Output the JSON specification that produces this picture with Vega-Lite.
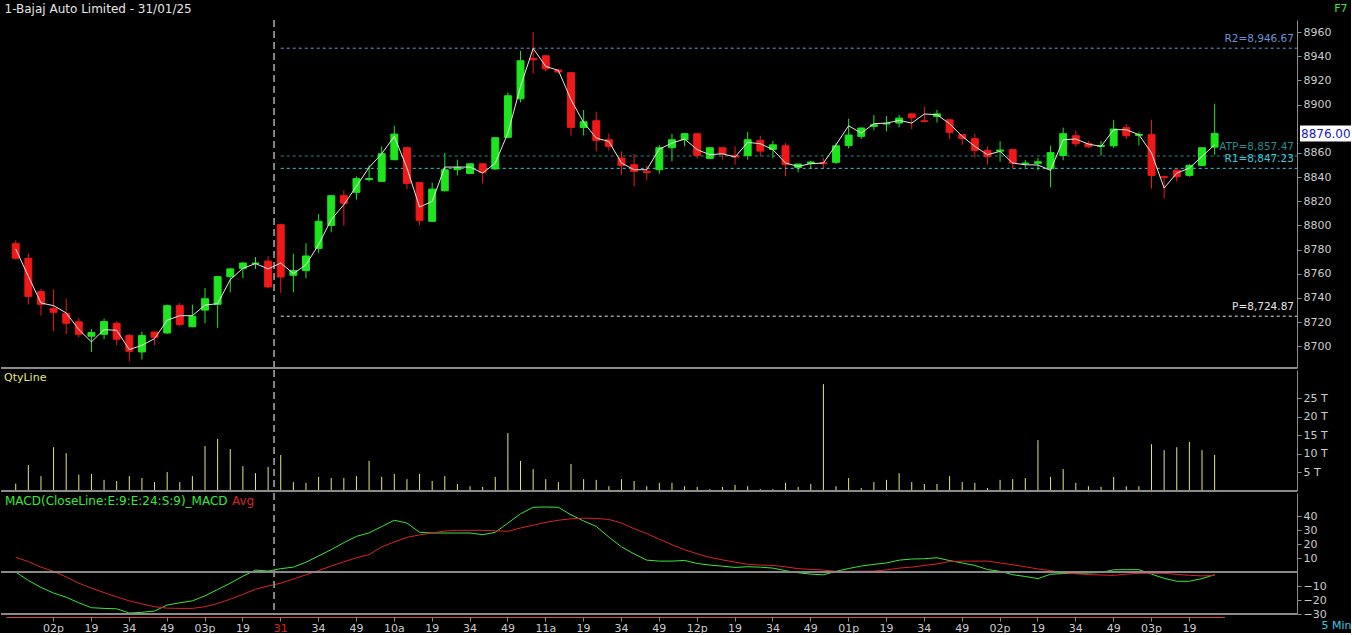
{
"$schema":"https://vega.github.io/schema/vega-lite/v6.json",
"background":"#000000",
"padding":{"top":2,"left":0,"right":0,"bottom":0},
"spacing":0,
"config":{"view":{"stroke":null},"font":"DejaVu Sans",
"axis":{"grid":false,"labelFont":"DejaVu Sans","labelFontSize":11,"labelColor":"#cccccc","domainColor":"#8c8c8c","tickColor":"#8c8c8c","titleFont":"DejaVu Sans","titleFontWeight":"normal","titleFontSize":11,"labelOverlap":false},
"legend":{"labelFont":"DejaVu Sans","labelFontSize":11,"padding":0,"title":null,"labelLimit":500}},
"resolve":{"scale":{"x":"shared","y":"independent","color":"independent"},"legend":{"color":"independent"}},
"datasets":{
"lv":[{"n":"R2","v":8946.67,"lab":"R2=8,946.67"},{"n":"ATP","v":8857.47,"lab":"ATP=8,857.47"},{"n":"R1","v":8847.23,"lab":"R1=8,847.23"},{"n":"P","v":8724.87,"lab":"P=8,724.87"}],
"last":[{"v":8876,"lbl":"8876.00"}],
"k":[
{"t":"30 13:49","o":8784.9,"h":8787.6,"l":8771.7,"c":8772.8,"d":"down","ma":8780.5,"q":2000,"m":0,"s":10.5},
{"t":"30 13:54","o":8772.8,"h":8776.6,"l":8734.5,"c":8741.3,"d":"down","ma":8757.9,"q":7000,"m":-6,"s":7.5},
{"t":"30 13:59","o":8745.2,"h":8747.4,"l":8725.3,"c":8734.7,"d":"down","ma":8735.8,"q":4000,"m":-11,"s":3.5},
{"t":"30 14:04","o":8731.2,"h":8746.9,"l":8712.4,"c":8728.1,"d":"down","ma":8733.6,"q":11800,"m":-15,"s":0.5},
{"t":"30 14:09","o":8727.0,"h":8739.4,"l":8709.9,"c":8719.0,"d":"down","ma":8727.6,"q":10200,"m":-18,"s":-3.5},
{"t":"30 14:14","o":8720.2,"h":8723.4,"l":8707.4,"c":8709.9,"d":"down","ma":8713.8,"q":4400,"m":-22,"s":-8},
{"t":"30 14:19","o":8708.3,"h":8714.3,"l":8695.3,"c":8711.3,"d":"up","ma":8703.6,"q":4600,"m":-25.5,"s":-11.5},
{"t":"30 14:24","o":8709.9,"h":8722.9,"l":8705.8,"c":8720.4,"d":"up","ma":8713.8,"q":3000,"m":-26,"s":-14.7},
{"t":"30 14:29","o":8719.0,"h":8720.4,"l":8700.8,"c":8705.8,"d":"down","ma":8713.2,"q":2700,"m":-26.3,"s":-17.8},
{"t":"30 14:34","o":8708.8,"h":8710.2,"l":8687.6,"c":8695.8,"d":"down","ma":8697.2,"q":4000,"m":-29.3,"s":-20.6},
{"t":"30 14:39","o":8695.3,"h":8712.1,"l":8689.0,"c":8708.8,"d":"up","ma":8700.8,"q":3500,"m":-28.8,"s":-22.8},
{"t":"30 14:44","o":8711.8,"h":8711.8,"l":8700.8,"c":8707.4,"d":"down","ma":8706.3,"q":2400,"m":-27.9,"s":-24.8},
{"t":"30 14:49","o":8711.0,"h":8734.5,"l":8710.2,"c":8733.6,"d":"up","ma":8721.5,"q":5100,"m":-23.6,"s":-25.8},
{"t":"30 14:54","o":8733.6,"h":8735.8,"l":8716.5,"c":8717.9,"d":"down","ma":8725.3,"q":2400,"m":-22,"s":-26},
{"t":"30 14:59","o":8716.2,"h":8734.5,"l":8715.7,"c":8724.8,"d":"up","ma":8725.3,"q":4000,"m":-20.6,"s":-26},
{"t":"30 15:04","o":8729.9,"h":8748.2,"l":8719.0,"c":8739.3,"d":"up","ma":8734.1,"q":12100,"m":-17,"s":-24.8},
{"t":"30 15:09","o":8734.7,"h":8757.6,"l":8715.2,"c":8757.6,"d":"up","ma":8735.2,"q":14000,"m":-12.5,"s":-22.5},
{"t":"30 15:14","o":8757.6,"h":8764.8,"l":8744.6,"c":8764.0,"d":"up","ma":8755.1,"q":11300,"m":-8,"s":-19.4},
{"t":"30 15:19","o":8764.5,"h":8769.5,"l":8756.5,"c":8768.9,"d":"up","ma":8764.5,"q":6700,"m":-3,"s":-16},
{"t":"30 15:24","o":8768.4,"h":8773.9,"l":8764.0,"c":8768.9,"d":"up","ma":8768.4,"q":4800,"m":1.4,"s":-12.3},
{"t":"30 15:29","o":8770.5,"h":8774.4,"l":8748.0,"c":8749.1,"d":"down","ma":8764.0,"q":6500,"m":0.7,"s":-10},
{"t":"31 09:19","o":8800.6,"h":8800.8,"l":8744.1,"c":8757.3,"d":"down","ma":8768.9,"q":9700,"m":2.4,"s":-8},
{"t":"31 09:24","o":8758.7,"h":8776.6,"l":8744.6,"c":8762.6,"d":"up","ma":8760.1,"q":2400,"m":3.5,"s":-5},
{"t":"31 09:29","o":8762.6,"h":8785.2,"l":8756.2,"c":8774.7,"d":"up","ma":8767.5,"q":2200,"m":7,"s":-2},
{"t":"31 09:34","o":8781.0,"h":8809.4,"l":8777.2,"c":8803.4,"d":"up","ma":8784.1,"q":3800,"m":11.5,"s":1},
{"t":"31 09:39","o":8800.0,"h":8825.0,"l":8794.3,"c":8824.6,"d":"up","ma":8804.8,"q":3500,"m":16,"s":4.3},
{"t":"31 09:44","o":8824.6,"h":8829.0,"l":8799.8,"c":8818.3,"d":"down","ma":8817.2,"q":3500,"m":21,"s":7.3},
{"t":"31 09:49","o":8827.4,"h":8840.6,"l":8821.3,"c":8838.7,"d":"up","ma":8832.4,"q":4000,"m":25.5,"s":10.2},
{"t":"31 09:54","o":8838.0,"h":8849.7,"l":8836.3,"c":8838.8,"d":"up","ma":8848.0,"q":8100,"m":28,"s":12.5},
{"t":"31 09:59","o":8836.5,"h":8865.4,"l":8836.5,"c":8859.3,"d":"up","ma":8859.3,"q":3800,"m":32.5,"s":18},
{"t":"31 10:04","o":8854.4,"h":8882.5,"l":8853.9,"c":8875.6,"d":"up","ma":8873.7,"q":4600,"m":37,"s":21.5},
{"t":"31 10:09","o":8864.3,"h":8865.0,"l":8830.1,"c":8834.8,"d":"down","ma":8847.5,"q":3200,"m":35,"s":24.8},
{"t":"31 10:14","o":8835.4,"h":8836.0,"l":8800.0,"c":8804.2,"d":"down","ma":8815.2,"q":4600,"m":28.4,"s":26.5},
{"t":"31 10:19","o":8803.4,"h":8835.4,"l":8802.9,"c":8830.1,"d":"up","ma":8819.9,"q":2700,"m":27.9,"s":27.9},
{"t":"31 10:24","o":8828.7,"h":8859.9,"l":8828.2,"c":8846.1,"d":"up","ma":8848.3,"q":4000,"m":27.9,"s":29.3},
{"t":"31 10:29","o":8846.1,"h":8854.4,"l":8841.4,"c":8848.0,"d":"up","ma":8848.3,"q":1900,"m":27.9,"s":29.8},
{"t":"31 10:34","o":8843.0,"h":8851.2,"l":8842.5,"c":8851.0,"d":"up","ma":8848.3,"q":1300,"m":27.9,"s":29.8},
{"t":"31 10:39","o":8851.0,"h":8851.3,"l":8834.8,"c":8843.9,"d":"down","ma":8843.3,"q":1100,"m":26.7,"s":29.8},
{"t":"31 10:44","o":8846.7,"h":8872.8,"l":8846.1,"c":8872.6,"d":"up","ma":8851.6,"q":3800,"m":28.4,"s":29.5},
{"t":"31 10:49","o":8872.9,"h":8910.1,"l":8872.0,"c":8907.3,"d":"up","ma":8876.4,"q":15600,"m":35,"s":29.1},
{"t":"31 10:54","o":8904.8,"h":8944.5,"l":8901.8,"c":8936.3,"d":"up","ma":8915.0,"q":8100,"m":41.6,"s":31.5},
{"t":"31 10:59","o":8938.2,"h":8960.0,"l":8925.8,"c":8937.1,"d":"down","ma":8946.5,"q":5900,"m":46.3,"s":33.5},
{"t":"31 11:04","o":8940.4,"h":8940.5,"l":8927.4,"c":8929.6,"d":"down","ma":8931.6,"q":3200,"m":46.5,"s":35.5},
{"t":"31 11:09","o":8928.6,"h":8929.6,"l":8926.0,"c":8927.0,"d":"down","ma":8928.3,"q":2400,"m":46.3,"s":37},
{"t":"31 11:14","o":8926.4,"h":8926.6,"l":8874.2,"c":8881.1,"d":"down","ma":8904.0,"q":7300,"m":40.9,"s":38.1},
{"t":"31 11:19","o":8881.1,"h":8895.5,"l":8874.5,"c":8885.8,"d":"up","ma":8885.2,"q":3200,"m":36.5,"s":38.5},
{"t":"31 11:24","o":8886.6,"h":8894.1,"l":8861.3,"c":8870.4,"d":"down","ma":8872.3,"q":3000,"m":32.6,"s":38.3},
{"t":"31 11:29","o":8870.9,"h":8875.9,"l":8862.1,"c":8865.4,"d":"down","ma":8869.5,"q":1300,"m":25,"s":37.6},
{"t":"31 11:34","o":8855.8,"h":8861.3,"l":8842.0,"c":8849.7,"d":"down","ma":8851.6,"q":3200,"m":18,"s":35},
{"t":"31 11:39","o":8850.2,"h":8859.1,"l":8832.3,"c":8844.7,"d":"down","ma":8846.1,"q":2700,"m":13,"s":31},
{"t":"31 11:44","o":8844.9,"h":8849.7,"l":8837.8,"c":8843.8,"d":"down","ma":8846.1,"q":1300,"m":8.5,"s":27.5},
{"t":"31 11:49","o":8846.1,"h":8866.5,"l":8842.8,"c":8864.3,"d":"up","ma":8863.2,"q":2200,"m":7.8,"s":23.5},
{"t":"31 11:54","o":8864.3,"h":8875.9,"l":8853.0,"c":8870.9,"d":"up","ma":8868.1,"q":2200,"m":7.8,"s":19.5},
{"t":"31 11:59","o":8870.9,"h":8876.2,"l":8865.4,"c":8875.9,"d":"up","ma":8871.5,"q":1300,"m":8.3,"s":16},
{"t":"31 12:04","o":8875.9,"h":8876.2,"l":8855.2,"c":8857.9,"d":"down","ma":8862.7,"q":1100,"m":6.1,"s":13},
{"t":"31 12:09","o":8855.5,"h":8864.5,"l":8854.7,"c":8864.3,"d":"up","ma":8858.5,"q":500,"m":5.0,"s":10.5},
{"t":"31 12:14","o":8864.3,"h":8864.5,"l":8854.4,"c":8859.1,"d":"down","ma":8859.3,"q":1100,"m":4.2,"s":8.7},
{"t":"31 12:19","o":8857.9,"h":8865.4,"l":8850.2,"c":8856.6,"d":"down","ma":8856.6,"q":1600,"m":3.3,"s":7.1},
{"t":"31 12:24","o":8857.9,"h":8877.5,"l":8854.4,"c":8870.9,"d":"up","ma":8868.7,"q":1300,"m":3.8,"s":5.5},
{"t":"31 12:29","o":8870.4,"h":8874.2,"l":8857.1,"c":8861.5,"d":"down","ma":8867.6,"q":500,"m":3.5,"s":5},
{"t":"31 12:34","o":8862.9,"h":8869.8,"l":8855.5,"c":8866.7,"d":"up","ma":8862.7,"q":500,"m":2.8,"s":4.7},
{"t":"31 12:39","o":8865.9,"h":8868.1,"l":8840.6,"c":8850.5,"d":"down","ma":8851.6,"q":2200,"m":1,"s":3.7},
{"t":"31 12:44","o":8848.0,"h":8851.0,"l":8843.9,"c":8850.8,"d":"up","ma":8848.9,"q":1100,"m":-0.5,"s":2.4},
{"t":"31 12:49","o":8851.4,"h":8853.3,"l":8846.7,"c":8852.5,"d":"up","ma":8851.1,"q":1900,"m":-1.5,"s":1.9},
{"t":"31 12:54","o":8851.9,"h":8855.8,"l":8846.7,"c":8851.1,"d":"down","ma":8851.6,"q":28800,"m":-2,"s":1.4},
{"t":"31 12:59","o":8852.2,"h":8868.1,"l":8850.8,"c":8865.9,"d":"up","ma":8866.7,"q":1300,"m":0.5,"s":0.5},
{"t":"31 13:04","o":8866.2,"h":8888.3,"l":8863.7,"c":8874.8,"d":"up","ma":8882.5,"q":3500,"m":2.5,"s":0.5},
{"t":"31 13:09","o":8873.7,"h":8880.8,"l":8871.5,"c":8880.6,"d":"up","ma":8876.4,"q":800,"m":4.3,"s":0.6},
{"t":"31 13:14","o":8882.0,"h":8891.4,"l":8878.7,"c":8883.3,"d":"up","ma":8884.2,"q":2400,"m":5.5,"s":0.7},
{"t":"31 13:19","o":8883.9,"h":8890.5,"l":8877.9,"c":8884.4,"d":"up","ma":8884.7,"q":3000,"m":6.5,"s":1.5},
{"t":"31 13:24","o":8884.7,"h":8891.4,"l":8881.1,"c":8888.8,"d":"up","ma":8886.9,"q":4800,"m":8.5,"s":2.8},
{"t":"31 13:29","o":8892.3,"h":8892.5,"l":8879.8,"c":8889.1,"d":"down","ma":8884.7,"q":2400,"m":9.3,"s":3.5},
{"t":"31 13:34","o":8886.6,"h":8898.0,"l":8885.2,"c":8886.1,"d":"down","ma":8892.2,"q":1900,"m":9.5,"s":4.7},
{"t":"31 13:39","o":8890.2,"h":8895.6,"l":8885.2,"c":8892.3,"d":"up","ma":8891.6,"q":1900,"m":10.2,"s":5.8},
{"t":"31 13:44","o":8887.4,"h":8888.3,"l":8871.5,"c":8877.0,"d":"down","ma":8884.2,"q":4000,"m":8.2,"s":7.5},
{"t":"31 13:49","o":8875.1,"h":8875.3,"l":8866.7,"c":8872.0,"d":"down","ma":8873.7,"q":2400,"m":6.5,"s":7.8},
{"t":"31 13:54","o":8871.8,"h":8875.9,"l":8856.1,"c":8862.1,"d":"down","ma":8865.4,"q":2200,"m":4.7,"s":7.8},
{"t":"31 13:59","o":8862.1,"h":8865.4,"l":8850.5,"c":8857.1,"d":"down","ma":8858.5,"q":800,"m":1.8,"s":7.8},
{"t":"31 14:04","o":8861.5,"h":8869.8,"l":8852.7,"c":8862.4,"d":"up","ma":8861.3,"q":3000,"m":0.5,"s":6.5},
{"t":"31 14:09","o":8862.7,"h":8862.9,"l":8847.3,"c":8851.6,"d":"down","ma":8851.6,"q":3200,"m":-1.9,"s":5.2},
{"t":"31 14:14","o":8851.1,"h":8854.1,"l":8848.0,"c":8851.6,"d":"up","ma":8850.2,"q":3500,"m":-3.2,"s":3.8},
{"t":"31 14:19","o":8851.4,"h":8855.8,"l":8845.6,"c":8852.7,"d":"up","ma":8850.0,"q":13700,"m":-4.7,"s":2.2},
{"t":"31 14:24","o":8847.0,"h":8865.9,"l":8831.5,"c":8860.2,"d":"up","ma":8845.6,"q":3800,"m":-1.6,"s":1},
{"t":"31 14:29","o":8857.9,"h":8880.9,"l":8853.9,"c":8875.9,"d":"up","ma":8870.9,"q":5900,"m":-1.1,"s":-0.5},
{"t":"31 14:34","o":8874.2,"h":8878.4,"l":8865.1,"c":8867.6,"d":"down","ma":8871.5,"q":2200,"m":-0.9,"s":-1.2},
{"t":"31 14:39","o":8867.6,"h":8869.8,"l":8864.0,"c":8865.1,"d":"down","ma":8867.3,"q":1300,"m":-0.7,"s":-1.8},
{"t":"31 14:44","o":8865.4,"h":8869.8,"l":8857.7,"c":8866.2,"d":"up","ma":8865.4,"q":1100,"m":-0.3,"s":-2.1},
{"t":"31 14:49","o":8865.9,"h":8887.2,"l":8864.0,"c":8879.8,"d":"up","ma":8879.2,"q":3800,"m":1.6,"s":-2.4},
{"t":"31 14:54","o":8880.9,"h":8883.9,"l":8871.5,"c":8874.2,"d":"down","ma":8879.2,"q":1300,"m":1.7,"s":-1.5},
{"t":"31 14:59","o":8874.5,"h":8877.2,"l":8866.2,"c":8875.3,"d":"up","ma":8875.1,"q":1300,"m":1.7,"s":-0.9},
{"t":"31 15:04","o":8875.1,"h":8887.5,"l":8830.4,"c":8841.4,"d":"down","ma":8859.9,"q":12600,"m":-1.5,"s":-0.9},
{"t":"31 15:09","o":8840.3,"h":8841.1,"l":8822.6,"c":8839.8,"d":"down","ma":8830.9,"q":11000,"m":-4.5,"s":-0.9},
{"t":"31 15:14","o":8845.8,"h":8846.0,"l":8836.3,"c":8840.3,"d":"down","ma":8843.3,"q":11800,"m":-6.6,"s":-1.7},
{"t":"31 15:19","o":8841.4,"h":8850.8,"l":8840.3,"c":8849.7,"d":"up","ma":8847.5,"q":13200,"m":-6.6,"s":-2.3},
{"t":"31 15:24","o":8849.7,"h":8864.5,"l":8848.9,"c":8864.3,"d":"up","ma":8857.1,"q":11000,"m":-4.7,"s":-2.8},
{"t":"31 15:29","o":8864.8,"h":8900.7,"l":8858.5,"c":8876.0,"d":"up","ma":8866.7,"q":9700,"m":-1.9,"s":-2.4}
]},
"vconcat":[
{"width":1296,"height":348,"data":{"name":"k"},
"layer":[
{"mark":{"type":"rule","strokeWidth":1},
 "encoding":{"x":{"field":"t","type":"ordinal","scale":{"paddingInner":0.45,"paddingOuter":0.5,"range":[4.94,1223.4]},
   "axis":{"orient":"top","labels":false,"ticks":false,"domain":false,"title":"1-Bajaj Auto Limited - 31/01/25","titleX":3,"titleY":-12,"titleAlign":"left","titleBaseline":"middle","titleColor":"#e6e6e6","titleFontSize":12}},
  "y":{"field":"l","type":"quantitative","scale":{"domain":[8682,8970],"nice":false,"zero":false},
   "axis":{"orient":"right","values":[8700,8720,8740,8760,8780,8800,8820,8840,8860,8900,8920,8940,8960],"tickCount":100,"format":"d","tickSize":4,"labelPadding":2,"labelOverlap":false,"title":"F7","titleAngle":0,"titleX":50,"titleY":-12,"titleAlign":"right","titleBaseline":"middle","titleColor":"#3ce63c","titleFontSize":11}},
  "y2":{"field":"h"},
  "color":{"field":"d","type":"nominal","legend":null,"scale":{"domain":["up","down","R2","ATP","R1","P"],"range":["#1ee61e","#f01818","#6f93d8","#2f8a8a","#3cc8dc","#e8e8e8"]}}}},
{"data":{"name":"lv"},"mark":{"type":"rule","strokeDash":[3,3],"strokeWidth":1},
 "encoding":{"x":{"datum":"31 09:19","type":"ordinal"},"x2":{"value":"width"},
  "y":{"field":"v","type":"quantitative"},
  "color":{"field":"n","type":"nominal","legend":null}}},
{"mark":{"type":"rule","color":"#8c8c8c"},"encoding":{"y":{"datum":8682,"type":"quantitative"}}},
{"mark":{"type":"rule","color":"#8c8c8c","strokeDash":[7,4],"xOffset":-6.3},"encoding":{"x":{"datum":"31 09:19","type":"ordinal"}}},
{"mark":{"type":"bar","strokeWidth":1},
 "encoding":{"x":{"field":"t","type":"ordinal"},
  "y":{"field":"o","type":"quantitative"},"y2":{"field":"c"},
  "color":{"field":"d","type":"nominal","legend":null},
  "stroke":{"field":"d","type":"nominal","legend":null,"scale":{"domain":["up","down"],"range":["#1ee61e","#f01818"]}}}},
{"mark":{"type":"line","color":"#e6e6e6","strokeWidth":1},
 "encoding":{"x":{"field":"t","type":"ordinal"},"y":{"field":"ma","type":"quantitative"}}},
{"data":{"name":"lv"},"mark":{"type":"text","align":"right","baseline":"middle","dx":-3,"dy":-9,"fontSize":10.5},
 "encoding":{"x":{"value":"width"},"y":{"field":"v","type":"quantitative"},"text":{"field":"lab"},
  "color":{"field":"n","type":"nominal","legend":null}}},
{"data":{"name":"last"},"mark":{"type":"point","shape":"M-2.55,-0.8H2.55V0.8H-2.55Z","filled":true,"fill":"#ffffff","opacity":1,"size":400,"xOffset":28.5},
 "encoding":{"x":{"value":"width"},"y":{"field":"v","type":"quantitative"}}},
{"data":{"name":"last"},"mark":{"type":"text","align":"left","baseline":"middle","dx":4,"fontSize":12,"color":"#1818c8"},
 "encoding":{"x":{"value":"width"},"y":{"field":"v","type":"quantitative"},"text":{"field":"lbl"}}}
]},
{"width":1296,"height":121,"data":{"name":"k"},
"layer":[
{"mark":{"type":"rule","strokeWidth":1},
 "encoding":{"x":{"field":"t","type":"ordinal","scale":{"paddingInner":0.45,"paddingOuter":0.5,"range":[4.94,1223.4]},"axis":null},
  "y":{"field":"q","type":"quantitative","scale":{"domain":[0,32600],"nice":false},
   "axis":{"orient":"right","values":[5000,10000,15000,20000,25000],"tickCount":100,"labelExpr":"datum.value / 1000 + ' T'","tickSize":4,"labelPadding":2,"labelOverlap":false,"title":null}},
  "y2":{"datum":0},
  "color":{"datum":"QtyLine","type":"nominal","scale":{"range":["#e6e67c"]},
   "legend":{"orient":"top-left","offset":2,"labelColor":"#e6e67c","symbolType":"circle","symbolSize":0,"symbolStrokeWidth":0,"symbolOpacity":0,"labelOffset":-10}}}},
{"mark":{"type":"rule","color":"#8c8c8c"},"encoding":{"y":{"datum":0,"type":"quantitative"}}},
{"mark":{"type":"rule","color":"#8c8c8c","strokeDash":[7,4],"xOffset":-6.3},"encoding":{"x":{"datum":"31 09:19","type":"ordinal","axis":null}}}
]},
{"width":1296,"height":121,"data":{"name":"k"},
"layer":[
{"mark":{"type":"line","strokeWidth":1},
 "encoding":{"x":{"field":"t","type":"ordinal","scale":{"paddingInner":0.45,"paddingOuter":0.5,"range":[4.94,1223.4]},
   "axis":{"orient":"bottom","offset":3,"values":["30 14:04","30 14:19","30 14:34","30 14:49","30 15:04","30 15:19","31 09:19","31 09:34","31 09:49","31 10:04","31 10:19","31 10:34","31 10:49","31 11:04","31 11:19","31 11:34","31 11:49","31 12:04","31 12:19","31 12:34","31 12:49","31 13:04","31 13:19","31 13:34","31 13:49","31 14:04","31 14:19","31 14:34","31 14:49","31 15:04","31 15:19"],
    "labelExpr":"datum.value == '31 09:19' ? '31' : (slice(datum.value, 6) != '04' ? slice(datum.value, 6) : (toNumber(slice(datum.value, 3, 5)) < 12 ? slice(datum.value, 3, 5) + 'a' : (toNumber(slice(datum.value, 3, 5)) == 12 ? '12p' : '0' + (toNumber(slice(datum.value, 3, 5)) - 12) + 'p')))",
    "labelColor":{"condition":{"test":"datum.value == '31 09:19'","value":"#e02020"},"value":"#cccccc"},
    "labelAngle":0,"labelOverlap":false,
    "domainColor":"#d24646","tickSize":4,"labelPadding":1,
    "title":"5 Min","titleX":1350,"titleY":8,"titleAlign":"right","titleBaseline":"middle","titleColor":"#3cc8e6","titleFontSize":11}},
  "y":{"field":"m","type":"quantitative","scale":{"domain":[-30,56.5],"nice":false,"zero":false},
   "axis":{"orient":"right","values":[40,30,20,10,-10,-20,-30],"tickCount":100,"tickSize":4,"labelPadding":2,"labelOverlap":false,"title":null}},
  "color":{"datum":"MACD(CloseLine:E:9:E:24:S:9)_MACD","type":"nominal","scale":{"domain":["MACD(CloseLine:E:9:E:24:S:9)_MACD","Avg"],"range":["#3ce63c","#dc2424"]},
   "legend":{"orient":"top-left","direction":"horizontal","offset":2,"columnPadding":2,"symbolType":"circle","symbolSize":0,"symbolStrokeWidth":0,"symbolOpacity":0,"labelOffset":-10,"labelFontSize":12,
    "encode":{"labels":{"update":{"fill":{"signal":"datum.label == 'Avg' ? '#dc2424' : '#3ce63c'"}}}}}}}},
{"mark":{"type":"line","strokeWidth":1},
 "encoding":{"x":{"field":"t","type":"ordinal"},"y":{"field":"s","type":"quantitative"},
  "color":{"datum":"Avg","type":"nominal"}}},
{"mark":{"type":"rule","color":"#8c8c8c"},"encoding":{"y":{"datum":0,"type":"quantitative"}}},
{"mark":{"type":"rule","color":"#8c8c8c"},"encoding":{"y":{"datum":-30,"type":"quantitative"}}},
{"mark":{"type":"rule","color":"#8c8c8c","strokeDash":[7,4],"xOffset":-6.3},"encoding":{"x":{"datum":"31 09:19","type":"ordinal"}}}
]}
]}
